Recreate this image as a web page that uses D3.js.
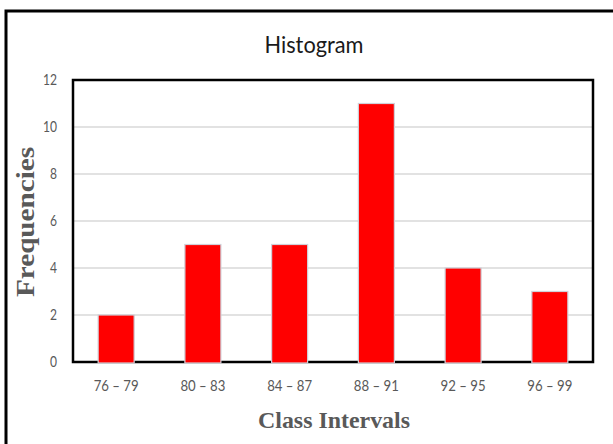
<!DOCTYPE html>
<html><head><meta charset="utf-8">
<script src="https://cdn.jsdelivr.net/npm/d3@7"></script>
<style>body{margin:0;background:#fff}svg{display:block}</style>
</head><body>
<script>
const categories = ["76 – 79","80 – 83","84 – 87","88 – 91","92 – 95","96 – 99"];
const frequencies = [2,5,5,11,4,3];
const yTicks = [0,2,4,6,8,10,12];

const W=613,H=444;
const svg=d3.select("body").append("svg").attr("width",W).attr("height",H);
const m={l:73,t:80,r:593,b:362};
const sansFont="Lato,'Open Sans',sans-serif";
// outer border (left + top, extends beyond page)
svg.append("path").attr("d",`M6,${H+5} L6,11 L${W+5},11`).attr("fill","none").attr("stroke","#000").attr("stroke-width",3);

const x=d3.scaleBand().domain(categories).range([m.l,m.r]).paddingInner(0.585).paddingOuter(0.29);
const y=d3.scaleLinear().domain([0,12]).range([m.b,m.t]);

// gridlines
svg.append("g").selectAll("line").data(yTicks.filter(t=>t>0&&t<12)).join("line")
 .attr("x1",m.l).attr("x2",m.r).attr("y1",d=>y(d)).attr("y2",d=>y(d))
 .attr("stroke","#d9d9d9").attr("stroke-width",1.5);

// plot border
svg.append("rect").attr("x",m.l).attr("y",m.t).attr("width",m.r-m.l).attr("height",m.b-m.t)
 .attr("fill","none").attr("stroke","#000").attr("stroke-width",2.5);

// bars
svg.append("g").selectAll("rect").data(frequencies).join("rect")
 .attr("x",(d,i)=>x(categories[i])).attr("width",x.bandwidth())
 .attr("y",d=>y(d)).attr("height",d=>y(0)-y(d)+1)
 .attr("fill","#ff0000").attr("stroke","#d0d0d8").attr("stroke-width",1.2);

// y axis labels
const yAxis=d3.axisLeft(y).tickValues(yTicks).tickSize(0).tickPadding(16);
const gy=svg.append("g").attr("transform",`translate(${m.l},0)`).call(yAxis);
gy.select(".domain").remove();
gy.selectAll("text").attr("font-family",sansFont).attr("font-size",14.5).attr("fill","#595959")
 .attr("textLength",d=>String(d).length*7).attr("lengthAdjust","spacingAndGlyphs");

// x axis labels
const xAxis=d3.axisBottom(x).tickSize(0).tickPadding(18);
const gx=svg.append("g").attr("transform",`translate(0,${m.b})`).call(xAxis);
gx.select(".domain").remove();
gx.selectAll("text").attr("font-family",sansFont).attr("font-size",15).attr("fill","#595959")
 .attr("textLength",45).attr("lengthAdjust","spacingAndGlyphs");

// title
svg.append("text").attr("x",314).attr("y",53).attr("text-anchor","middle")
 .attr("font-family",sansFont).attr("font-size",24).attr("fill","#1a1a1a")
 .attr("textLength",99).attr("lengthAdjust","spacingAndGlyphs").text("Histogram");

// axis titles
svg.append("text").attr("transform","translate(34,222) rotate(-90)").attr("text-anchor","middle")
 .attr("font-family","'Liberation Serif',serif").attr("font-weight","bold").attr("font-size",25)
 .attr("textLength",150).attr("lengthAdjust","spacingAndGlyphs").attr("fill","#595959").text("Frequencies");
svg.append("text").attr("x",334).attr("y",428).attr("text-anchor","middle")
 .attr("font-family","'Liberation Serif',serif").attr("font-weight","bold").attr("font-size",24)
 .attr("textLength",152).attr("lengthAdjust","spacingAndGlyphs").attr("fill","#595959").text("Class Intervals");
</script>
</body></html>
